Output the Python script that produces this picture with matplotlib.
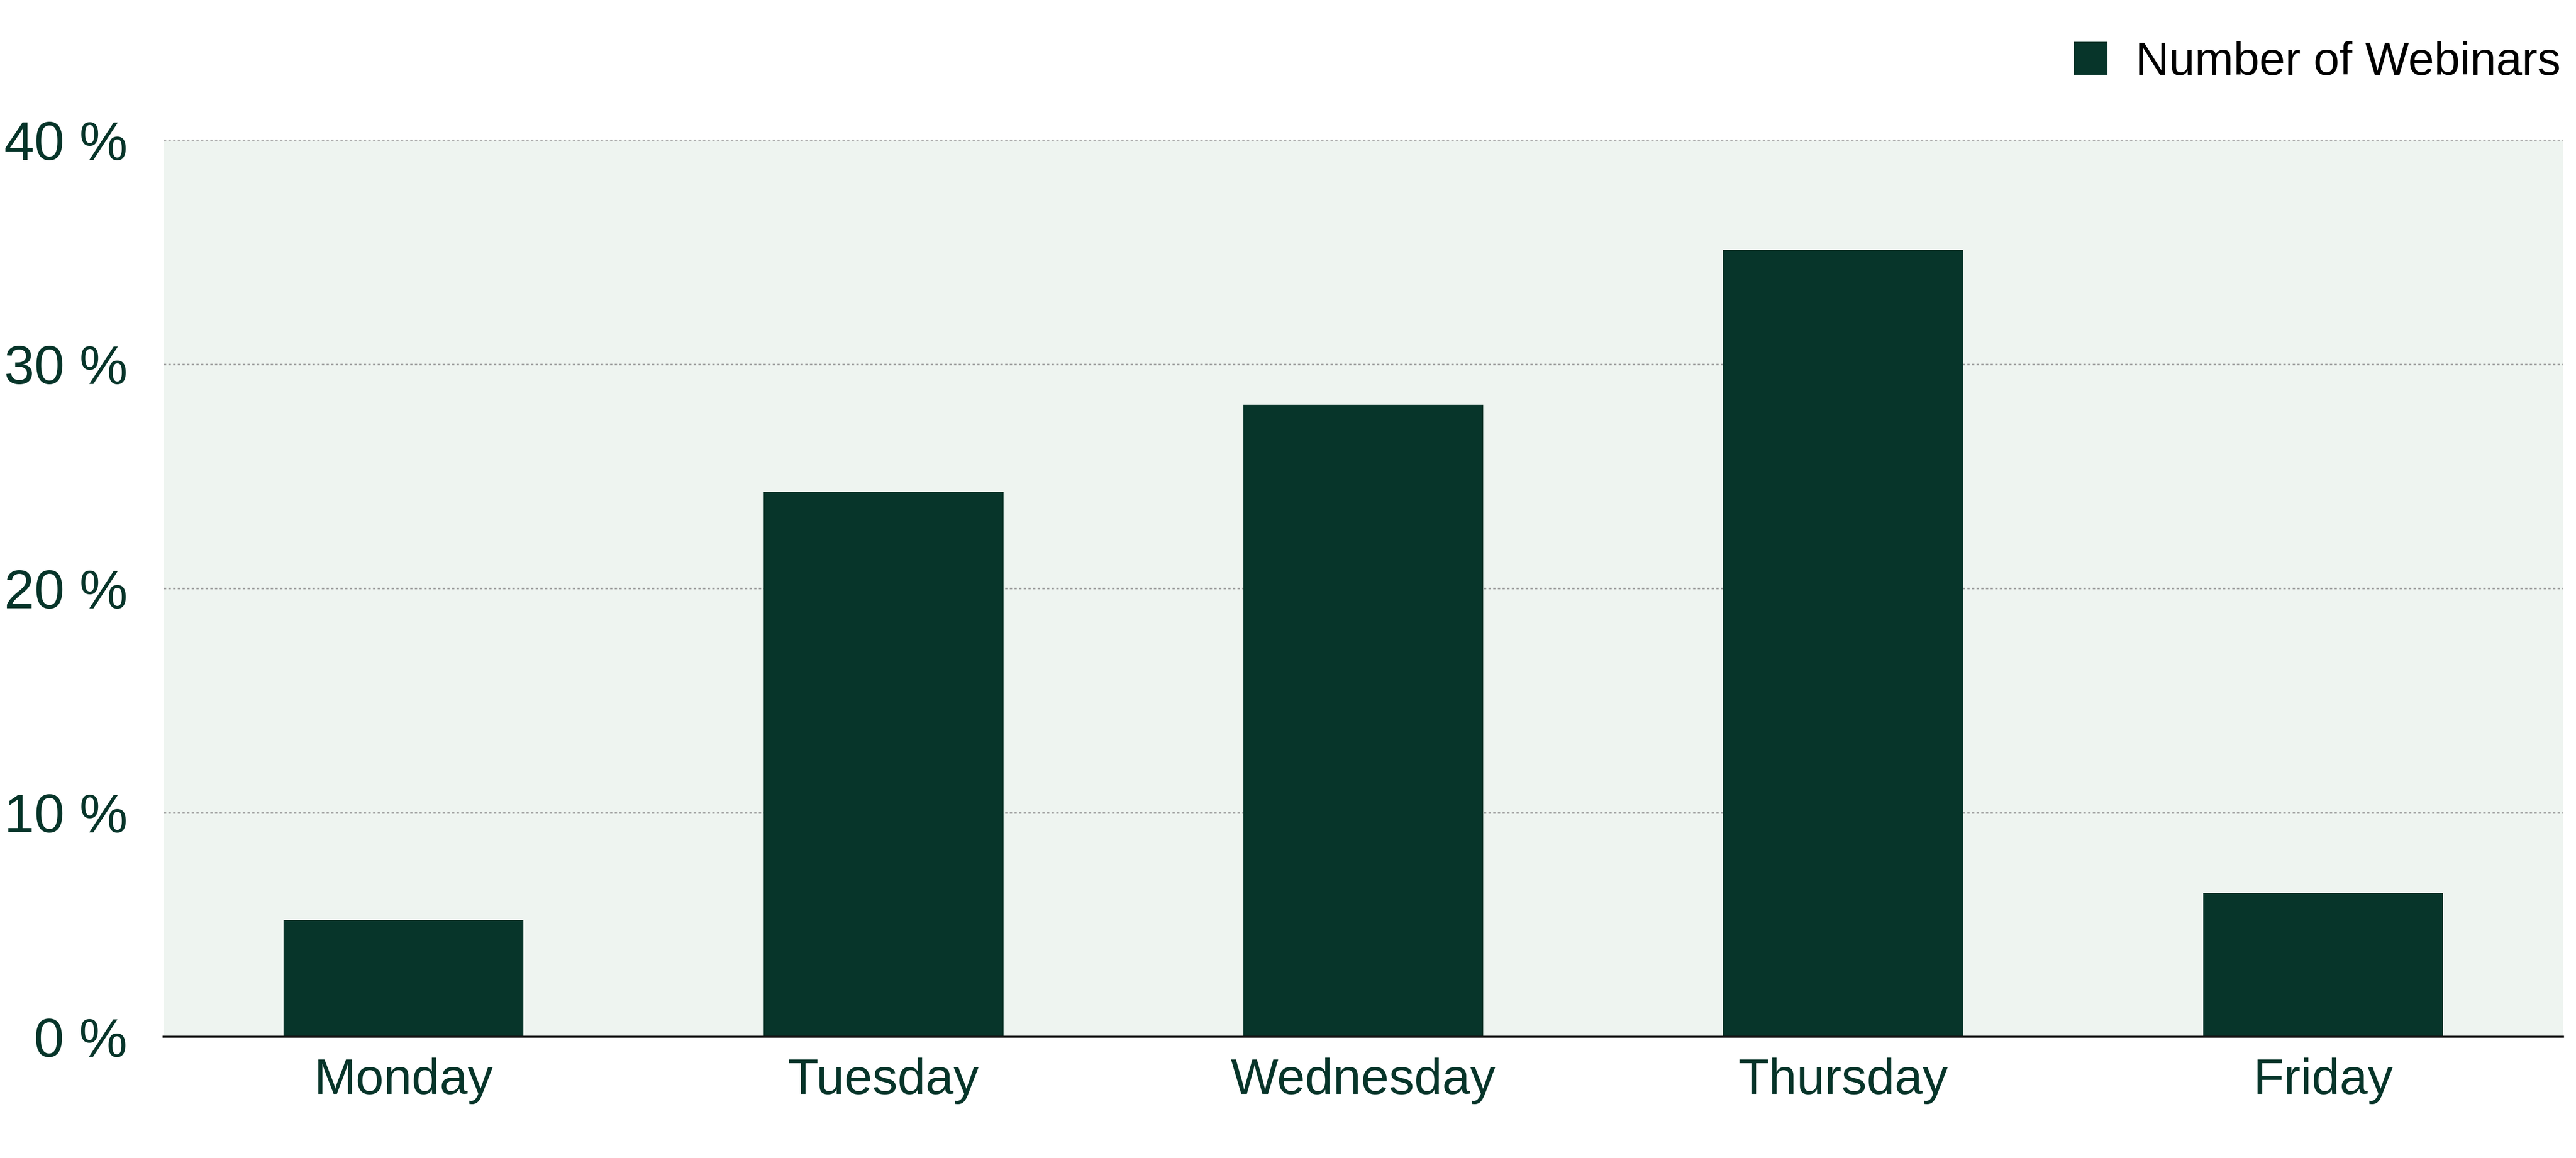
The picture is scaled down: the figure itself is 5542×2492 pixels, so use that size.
import matplotlib
matplotlib.use("Agg")
import matplotlib.pyplot as plt
from matplotlib.patches import Patch

# data
days = ['Monday', 'Tuesday', 'Wednesday', 'Thursday', 'Friday']
webinars_pct = [5.2, 24.3, 28.2, 35.1, 6.4]
y_ticks = [0, 10, 20, 30, 40]
series_name = 'Number of Webinars'

dark_green = '#07352A'
panel_bg = '#EEF4F0'

plt.rcParams['font.family'] = ['Liberation Sans', 'DejaVu Sans']

fig = plt.figure(figsize=(27.71, 12.46), dpi=200)
ax = fig.add_axes([0.0635, 0.1047, 0.9315, 0.7743])
ax.set_facecolor(panel_bg)

x = range(len(days))
ax.bar(x, webinars_pct, width=0.5, color=dark_green, zorder=3)

ax.set_xlim(-0.5, len(days) - 0.5)
ax.set_ylim(0, 40)
ax.set_yticks(y_ticks)
ax.set_yticklabels([f'{v} %' for v in y_ticks])
ax.set_xticks(list(x))
ax.set_xticklabels(days)

ax.tick_params(axis='y', length=0, pad=28, labelsize=42, labelcolor=dark_green)
ax.tick_params(axis='x', length=0, pad=16, labelsize=39, labelcolor=dark_green)

ax.grid(axis='y', color='#9a9a9a', linestyle=(0, (1.5, 1.5)), linewidth=1.2, zorder=1)
ax.grid(axis='x', visible=False)

for side in ['top', 'right', 'left']:
    ax.spines[side].set_visible(False)
ax.spines['bottom'].set_color('#111111')
ax.spines['bottom'].set_linewidth(1.6)
ax.spines['bottom'].set_zorder(4)

handle = Patch(facecolor=dark_green, edgecolor='none')
fig.legend([handle], [series_name], loc='center right',
           bbox_to_anchor=(0.994, 0.946), frameon=False, fontsize=36,
           handlelength=0.72, handleheight=0.72, handletextpad=0.6,
           borderpad=0, borderaxespad=0)

fig.savefig('out.png', dpi=200)
